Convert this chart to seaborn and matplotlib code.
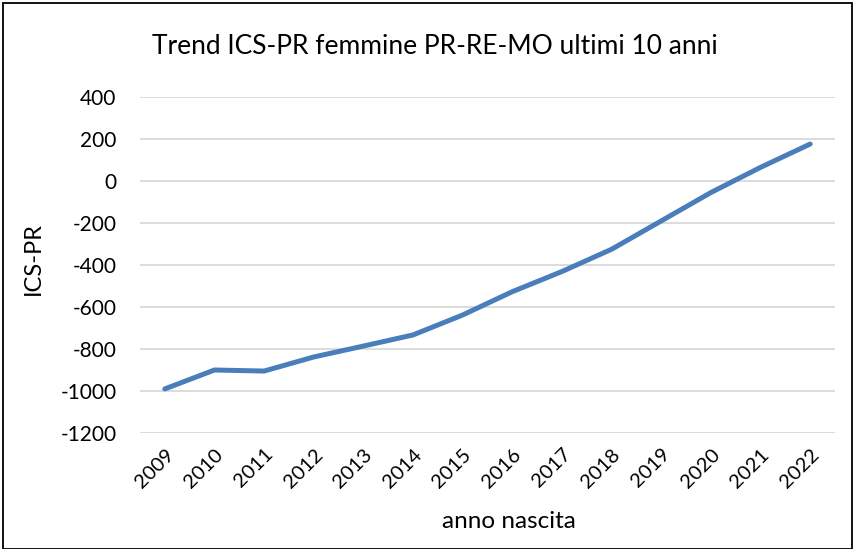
import matplotlib
matplotlib.use("Agg")
import matplotlib.pyplot as plt
import seaborn as sns
import pandas as pd
from matplotlib.patches import Rectangle

years = ["2009", "2010", "2011", "2012", "2013", "2014", "2015", "2016",
         "2017", "2018", "2019", "2020", "2021", "2022"]
ics_pr = [-990, -900, -905, -838, -786, -733, -638, -527,
          -431, -325, -190, -55, 65, 176]
y_ticks = [400, 200, 0, -200, -400, -600, -800, -1000, -1200]

df = pd.DataFrame({"anno": years, "ics": ics_pr})
df["pos"] = range(len(years))

sns.set_theme(style="white")
plt.rcParams["font.family"] = ["Lato", "DejaVu Sans"]

fig = plt.figure(figsize=(8.56, 5.49), dpi=100)
ax = fig.add_axes([140/856, 1-433/549, 695/856, 336/549])

sns.lineplot(data=df, x="pos", y="ics", ax=ax, color="#4a7ebb",
             linewidth=3.6, solid_capstyle="round", solid_joinstyle="round")

ax.set_xlim(-0.5, len(years) - 0.5)
ax.set_ylim(-1200, 400)
ax.set_yticks(y_ticks)
ax.set_yticklabels([str(v) for v in y_ticks], fontsize=15, color="#000000")
ax.set_xticks(list(range(len(years))))
ax.set_xticklabels(years, rotation=45, ha="right", rotation_mode="anchor",
                   fontsize=14.5, color="#000000")
ax.tick_params(axis="y", length=0, pad=17)
ax.tick_params(axis="x", length=0, pad=9)
ax.yaxis.grid(True, color="#d9d9d9", linewidth=1.3)
ax.set_axisbelow(True)
for s in ax.spines.values():
    s.set_visible(False)
ax.set_xlabel("")
ax.set_ylabel("")

fig.text(435/856, 1-47/549, "Trend ICS-PR femmine PR-RE-MO ultimi 10 anni",
         ha="center", va="center", fontsize=19, color="#000000")
fig.text(509/856, 1-521/549, "anno nascita", ha="center", va="center",
         fontsize=17.5, color="#000000")
fig.text(33/856, 1-258/549, "ICS-PR", ha="center", va="center",
         rotation=90, fontsize=17, color="#000000")

fig.patches.append(Rectangle((3/856, 0), 849/856, 1-3/549, transform=fig.transFigure,
                             fill=False, edgecolor="black", linewidth=1.3))

fig.savefig("out.png", dpi=100)
